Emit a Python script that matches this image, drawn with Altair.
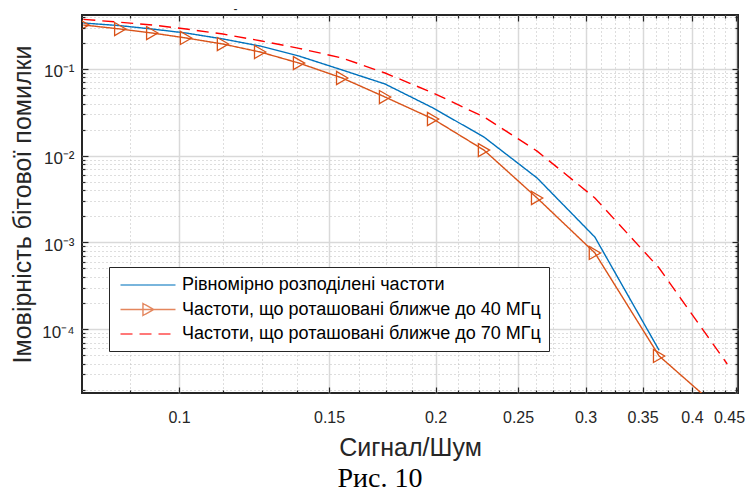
import altair as alt
import pandas as pd

# ---------------- data ----------------
x_vals = [0.0772, 0.0853, 0.0930, 0.1019, 0.1126, 0.1245, 0.1383, 0.1554,
          0.1745, 0.1987, 0.2280, 0.2632, 0.3077, 0.3660, 0.4400]
uniform = [0.339, 0.316, 0.289, 0.260, 0.222, 0.184, 0.141, 0.0974,
           0.0671, 0.0355, 0.0164, 0.00553, 0.00115, 5.7e-5]
near40 = [0.322, 0.289, 0.260, 0.228, 0.194, 0.157, 0.117, 0.0787,
          0.0475, 0.0265, 0.0116, 0.00325, 0.000755, 4.9e-5, 1.0e-5]
near70 = [0.374, 0.346, 0.322, 0.289, 0.253, 0.212, 0.173, 0.134,
          0.0899, 0.0529, 0.0280, 0.0113, 0.00325, 0.000507, 3.96e-5]

series_names = ["Рівномірно розподілені частоти",
                "Частоти, що роташовані ближче до 40 МГц",
                "Частоти, що роташовані ближче до 70 МГц"]

x_major = [0.1, 0.15, 0.2, 0.25, 0.3, 0.35, 0.4, 0.45]
x_minor = [0.0875, 0.1125, 0.125, 0.1375, 0.1625, 0.175, 0.1875, 0.2125,
           0.225, 0.2375, 0.2625, 0.275, 0.2875, 0.3125, 0.325, 0.3375,
           0.3625, 0.375, 0.3875, 0.4125, 0.425, 0.4375]
y_major = [1e-4, 1e-3, 1e-2, 1e-1]
y_minor = [2e-5, 3e-5, 4e-5, 5e-5, 6e-5, 7e-5, 8e-5, 9e-5,
           2e-4, 3e-4, 4e-4, 5e-4, 6e-4, 7e-4, 8e-4, 9e-4,
           2e-3, 3e-3, 4e-3, 5e-3, 6e-3, 7e-3, 8e-3, 9e-3,
           2e-2, 3e-2, 4e-2, 5e-2, 6e-2, 7e-2, 8e-2, 9e-2,
           0.2, 0.3, 0.4]

rows = []
for name, vals in zip(series_names, [uniform, near40, near70]):
    for i, v in enumerate(vals):
        rows.append({"x": x_vals[i], "y": v, "series": name, "i": i})
df = pd.DataFrame(rows)

# ---------------- styles ----------------
FONT = "Liberation Sans"
TXT = "#262626"
BLUE, ORANGE, RED = "#0072BD", "#D95319", "#FF0000"
colors = [BLUE, ORANGE, RED]
dashes = [[1, 0], [1, 0], [12, 7]]
widths = [1.4, 1.4, 2.2]
sym_paths = ["M-3,0L3,0",
             "M-3,0L3,0M-0.55,-0.65L0.65,0L-0.55,0.65Z",
             "M-3,0L3,0"]

xs = alt.Scale(type="log", domain=[0.07692, 0.4530], nice=False)
ys = alt.Scale(type="log", domain=[1.832e-5, 0.4196], nice=False)

leg = dict(title=None, orient="none", legendX=27, legendY=252)

base = alt.Chart(df)

main_x_axis = alt.Axis(values=x_major, orient="bottom", format="~g", grid=True,
                       gridColor="#d9d9d9", gridWidth=1.5, ticks=False, domain=False,
                       labelFlush=5, labelFlushOffset=9, labelOverlap=False,
                       labelPadding=16, labelFontSize=16, title="Сигнал/Шум",
                       titleFontSize=25, titleY=62, titleBaseline="alphabetic")
main_y_axis = alt.Axis(values=y_major, orient="left", grid=True, gridColor="#d9d9d9",
                       gridWidth=1.5, ticks=False, domain=False, labelOverlap=False,
                       labelPadding=8, labelFontSize=17, labelBaseline="middle",
                       labelOffset=3,
                       labelExpr="'10' + ['⁰','⁻¹','⁻²','⁻³','⁻⁴','⁻⁵'][round(-log(datum.value)/LN10)]",
                       title="Імовірність бітової помилки", titleFontSize=25,
                       titleX=-52, titleY=189, titleAngle=270, titleAlign="center",
                       titleBaseline="alphabetic")

lines = base.mark_line(clip=True).encode(
    x=alt.X("x:Q", scale=xs, axis=main_x_axis),
    y=alt.Y("y:Q", scale=ys, axis=main_y_axis),
    color=alt.Color("series:N", scale=alt.Scale(domain=series_names, range=colors),
                    legend=alt.Legend(**leg)),
    strokeDash=alt.StrokeDash("series:N", scale=alt.Scale(domain=series_names, range=dashes),
                              legend=alt.Legend(**leg)),
    strokeWidth=alt.StrokeWidth("series:N", scale=alt.Scale(domain=series_names, range=widths),
                                legend=None),
    order="i:Q",
)

markers = base.transform_filter(alt.datum.series == series_names[1]).mark_point(
    shape="triangle-right", filled=False, size=170, strokeWidth=1.3,
    color=ORANGE, opacity=1, clip=True,
).encode(x=alt.X("x:Q", scale=xs), y=alt.Y("y:Q", scale=ys))

legend_layer = base.transform_filter("false").mark_point(filled=False, clip=True).encode(
    x=alt.X("x:Q", scale=xs),
    y=alt.Y("y:Q", scale=ys),
    color=alt.Color("series:N", scale=alt.Scale(domain=series_names, range=colors),
                    legend=alt.Legend(**leg)),
    strokeDash=alt.StrokeDash("series:N", scale=alt.Scale(domain=series_names, range=dashes),
                              legend=alt.Legend(**leg)),
    shape=alt.Shape("series:N", scale=alt.Scale(domain=series_names, range=sym_paths),
                    legend=alt.Legend(**leg)),
)

inner = alt.layer(lines, markers, legend_layer)

minor_grid = base.mark_point(opacity=0).encode(
    x=alt.X("x:Q", scale=xs, axis=alt.Axis(values=x_minor, orient="bottom", grid=True,
                                           gridDash=[1, 3], gridColor="#bdbdbd", gridWidth=1,
                                           ticks=False, labels=False, domain=False, title=None)),
    y=alt.Y("y:Q", scale=ys, axis=alt.Axis(values=y_minor, orient="left", grid=True,
                                           gridDash=[1, 3], gridColor="#bdbdbd", gridWidth=1,
                                           ticks=False, labels=False, domain=False, title=None)),
)


def xticks(values, orient, size, **kw):
    return base.mark_point(opacity=0).encode(
        x=alt.X("x:Q", scale=xs, axis=alt.Axis(values=values, orient=orient, tickSize=size,
                                               offset=-size, tickColor=TXT, tickWidth=1.2,
                                               labels=False, domain=False, grid=False,
                                               zindex=2, **kw)),
        y=alt.Y("y:Q", scale=ys, axis=None),
    )


def yticks(values, orient, size):
    return base.mark_point(opacity=0).encode(
        x=alt.X("x:Q", scale=xs, axis=None),
        y=alt.Y("y:Q", scale=ys, axis=alt.Axis(values=values, orient=orient, tickSize=size,
                                               offset=-size, tickColor=TXT, tickWidth=1.2,
                                               labels=False, domain=False, grid=False,
                                               zindex=2, title=None)),
    )


tick_layers = [
    xticks(x_major, "bottom", 6, title=None),
    xticks(x_major, "top", 6, title="-", titleX=153, titleY=-9, titleFontSize=12,
           titleBaseline="alphabetic", titleAlign="center", titleAngle=0),
    xticks(x_minor, "bottom", 3, title=None),
    xticks(x_minor, "top", 3, title=None),
    yticks(y_major, "left", 6),
    yticks(y_major, "right", 6),
    yticks(y_minor, "left", 3),
    yticks(y_minor, "right", 3),
]

chart = alt.layer(minor_grid, inner, *tick_layers).resolve_scale(
    x="independent", y="independent"
).properties(
    width=656,
    height=378,
    autosize=alt.AutoSizeParams(type="none"),
    padding={"left": 74, "top": 7, "right": 9, "bottom": 98},
    title=alt.TitleParams("Рис. 10", orient="bottom", font="Liberation Serif", fontSize=28,
                          fontWeight="normal", color="black", anchor="middle", dx=-30, offset=5),
).configure_view(
    stroke=TXT, strokeWidth=2
).configure_axis(
    labelFont=FONT, labelColor=TXT, titleFont=FONT, titleColor=TXT, titleFontWeight="normal"
).configure_legend(
    padding=8, fillColor="white", strokeColor=TXT, strokeWidth=1,
    labelFont=FONT, labelFontSize=18, labelColor="black", labelLimit=0,
    labelOffset=24, symbolOffset=21, symbolSize=336, symbolStrokeWidth=1.5,
    rowPadding=5.5,
)

chart.save("out.html", embed_options={"renderer": "svg", "actions": False})
